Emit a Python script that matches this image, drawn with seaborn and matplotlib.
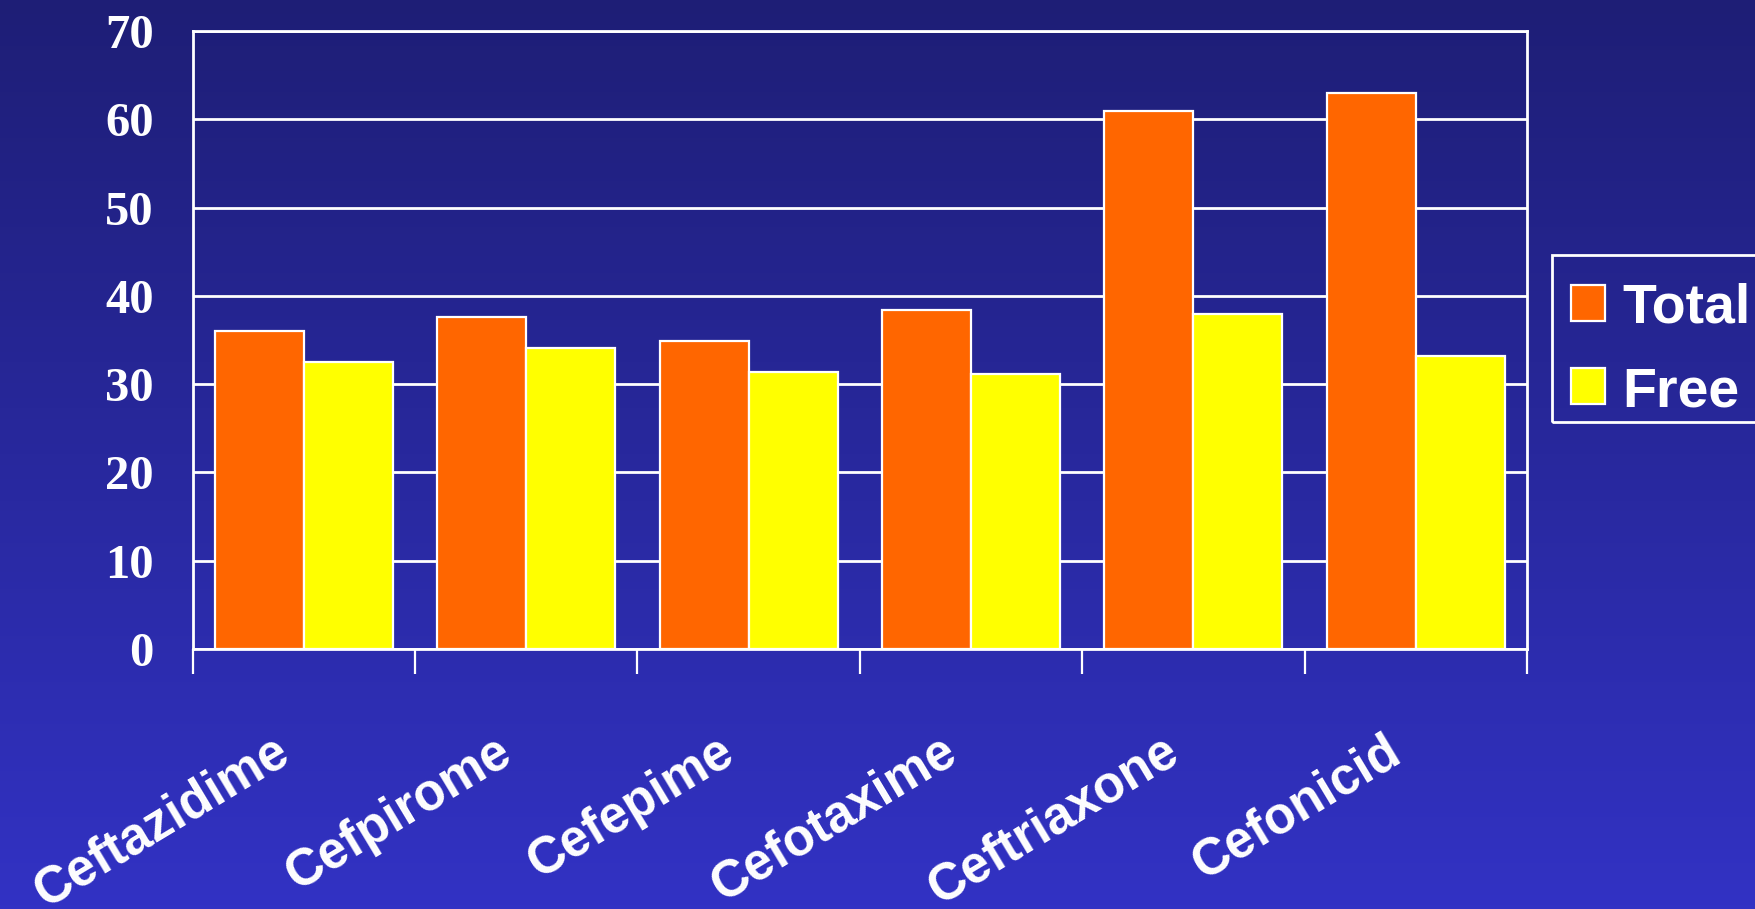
import numpy as np
import pandas as pd
import matplotlib
matplotlib.use("Agg")
import matplotlib.pyplot as plt
import matplotlib.transforms as mtransforms
from matplotlib.patches import Rectangle
import seaborn as sns

drugs = ["Ceftazidime", "Cefpirome", "Cefepime", "Cefotaxime", "Ceftriaxone", "Cefonicid"]
total = [36.0, 37.6, 34.9, 38.4, 60.9, 63.0]
free = [32.5, 34.1, 31.4, 31.1, 38.0, 33.2]
series = ["Total", "Free"]
yticks = [0, 10, 20, 30, 40, 50, 60, 70]

df = pd.DataFrame({
    "drug": drugs * 2,
    "kind": ["Total"] * len(drugs) + ["Free"] * len(drugs),
    "value": total + free,
})

sns.set_theme(style="white")
plt.rcParams["font.family"] = ["Liberation Sans", "DejaVu Sans"]

W, H = 1755, 909
fig = plt.figure(figsize=(W / 100, H / 100), dpi=100)

# vertical blue gradient background
bg = fig.add_axes([0, 0, 1, 1], zorder=-10)
top_c = np.array([30, 30, 118]) / 255
bot_c = np.array([50, 50, 196]) / 255
t = np.linspace(0, 1, 256)[:, None]
grad = top_c[None, :] * (1 - t) + bot_c[None, :] * t
bg.imshow(np.repeat(grad[:, None, :], 2, axis=1), aspect="auto", extent=[0, 1, 0, 1])
bg.set_axis_off()

left, right = 192.5 / W, 1527 / W
bottom, top = 1 - 649 / H, 1 - 31 / H
ax = fig.add_axes([left, bottom, right - left, top - bottom])
ax.set_facecolor("none")

palette = {"Total": "#FF6600", "Free": "#FFFF00"}
sns.barplot(data=df, x="drug", y="value", hue="kind", hue_order=series,
            palette=palette, saturation=1, edgecolor="white", linewidth=1.6,
            width=0.8, ax=ax, legend=True, zorder=3)

ax.set_xlim(-0.5, len(drugs) - 0.5)
ax.set_ylim(0, 70)
ax.set_yticks(yticks)
ax.set_yticklabels([str(v) for v in yticks], fontfamily="Liberation Serif",
                   fontweight="bold", fontsize=35, color="white")
ax.tick_params(axis="y", length=0, pad=28)

ax.yaxis.grid(True, color="white", linewidth=2)
ax.set_axisbelow(True)
for s in ax.spines.values():
    s.set_color("white")
    s.set_linewidth(2)

# category labels centred on groups, tick marks at group boundaries
ax.set_xticks(range(len(drugs)))
ax.set_xticklabels(drugs, rotation=31, ha="right", rotation_mode="anchor",
                   fontsize=37, fontweight="bold", color="white")
ax.tick_params(axis="x", which="major", length=0, pad=56)
ax.set_xticks(np.arange(-0.5, len(drugs), 1.0), minor=True)
ax.tick_params(axis="x", which="minor", bottom=True, length=18, width=1.6,
               color="white", direction="out")
shift = mtransforms.ScaledTranslation(-0.31, 0, fig.dpi_scale_trans)
for lab in ax.get_xticklabels():
    lab.set_transform(lab.get_transform() + shift)
ax.set_xlabel("")
ax.set_ylabel("")

leg = ax.legend(loc="upper left", bbox_to_anchor=(1547.5 / W, 1 - 259 / H),
                bbox_transform=fig.transFigure, borderaxespad=0, frameon=False,
                fontsize=40, handlelength=0.62, handleheight=0.62,
                handletextpad=0.3, labelspacing=0.57, borderpad=0.42)
for txt in leg.get_texts():
    txt.set_color("white")
    txt.set_fontweight("bold")
for h in leg.legend_handles:
    h.set_edgecolor("white")
    h.set_linewidth(1.6)

# legend box, running off the right edge of the figure
fig.patches.append(Rectangle((1552 / W, 1 - 422 / H), 0.2, (422 - 255) / H,
                             transform=fig.transFigure, facecolor="none",
                             edgecolor="white", linewidth=2, figure=fig))

fig.savefig("out.png", dpi=100)
